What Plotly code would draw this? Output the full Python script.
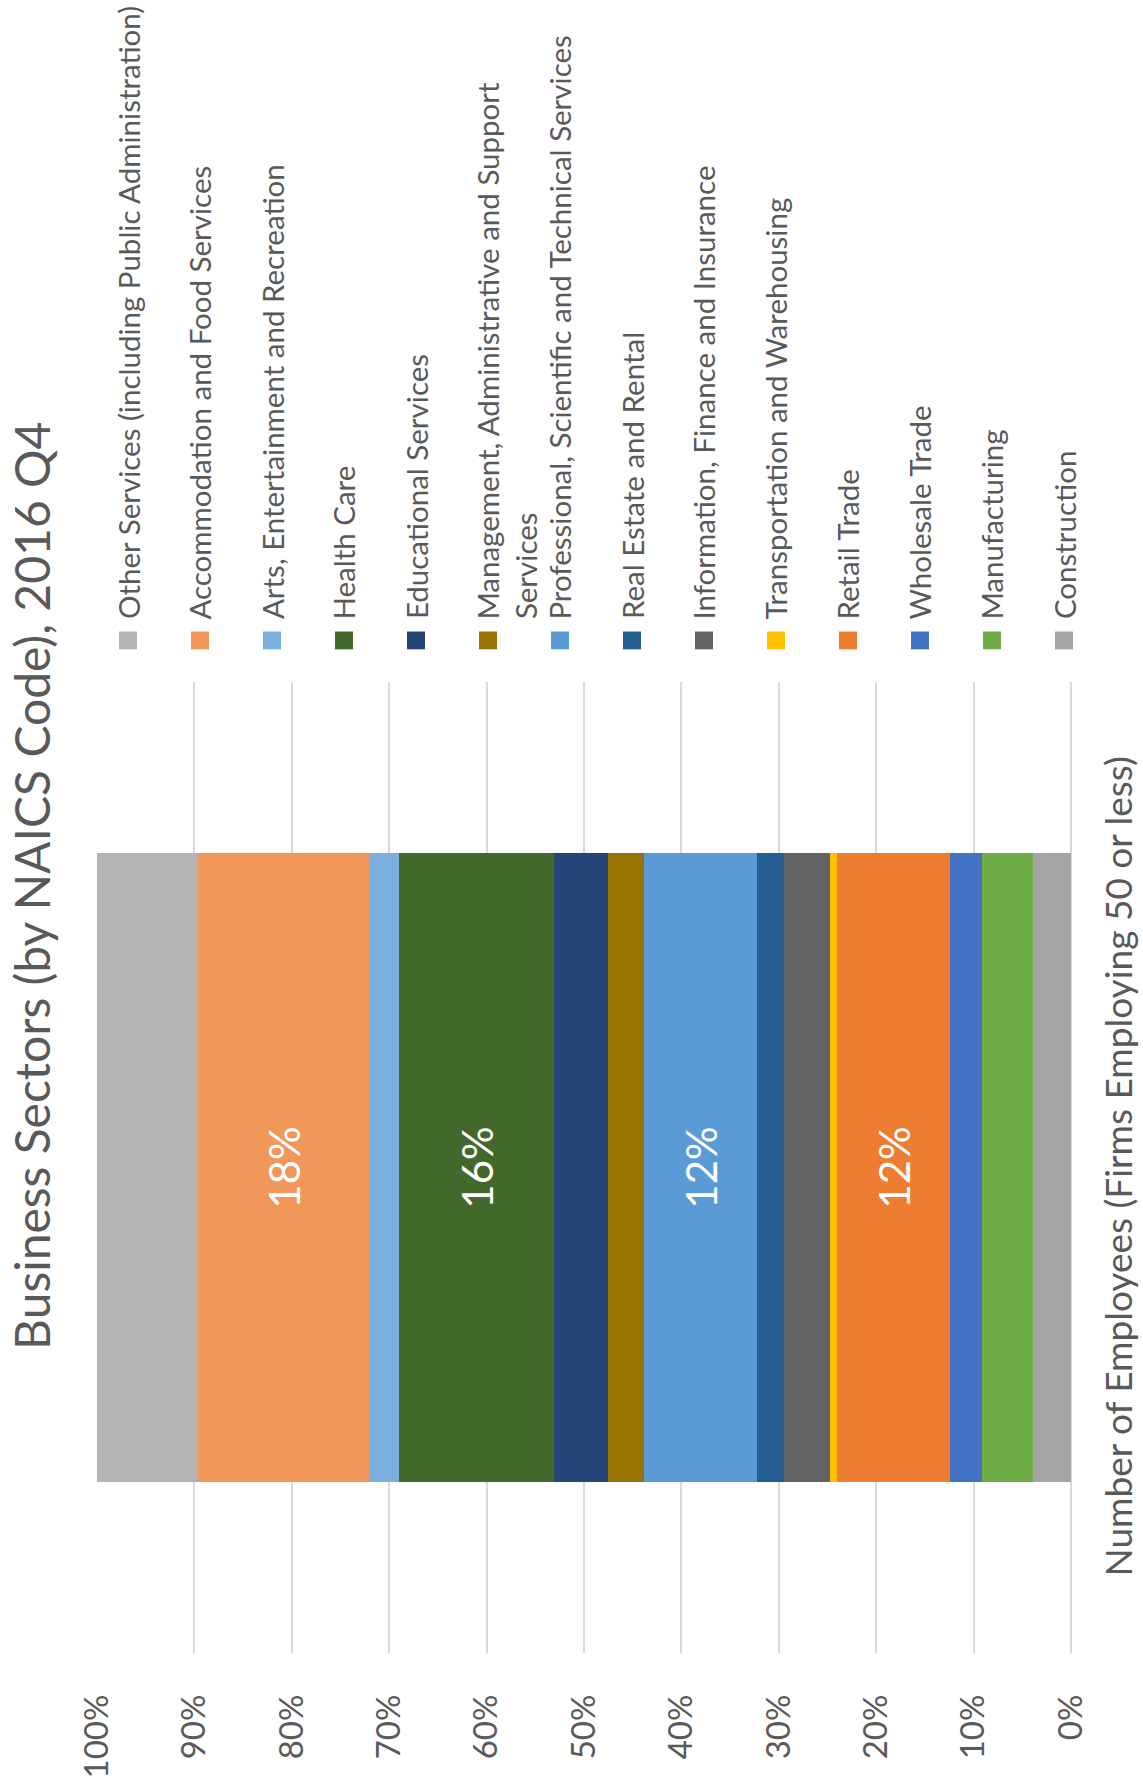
import plotly.graph_objects as go

# Figure and plot-area geometry (pixels)
W, H = 1143, 1790
PLOT_L, PLOT_R, PLOT_T, PLOT_B = 97, 1071, 682, 1663

FONT = "Lato"
GREY_TEXT = "#595959"

chart_title = "Business Sectors (by NAICS Code), 2016 Q4"
axis_title = "Number of Employees (Firms Employing 50 or less)"
group = ["Firms employing 50 or less"]

# Sectors in stacking order (first one sits at 0%)
sectors = [
    "Construction",
    "Manufacturing",
    "Wholesale Trade",
    "Retail Trade",
    "Transportation and Warehousing",
    "Information, Finance and Insurance",
    "Real Estate and Rental",
    "Professional, Scientific and Technical Services",
    "Management, Administrative and Support Services",
    "Educational Services",
    "Health Care",
    "Arts, Entertainment and Recreation",
    "Accommodation and Food Services",
    "Other Services (including Public Administration)",
]
# Share of firms, percent
shares = [3.9, 5.2, 3.3, 11.6, 0.7, 4.8, 2.7, 11.6, 3.7, 5.6, 15.9, 3.0, 17.7, 10.3]
colors = [
    "#A5A5A5", "#70AD47", "#4472C4", "#ED7D31", "#FFC000", "#636363", "#255E91",
    "#5B9BD5", "#997300", "#264478", "#43682B", "#7CAFDD", "#F1975A", "#B4B4B4",
]
# Legend text (long names wrap onto a second line)
legend_text = {
    "Management, Administrative and Support Services":
        ["Management, Administrative and Support", "Services"],
}
labelled = {
    "Retail Trade",
    "Professional, Scientific and Technical Services",
    "Health Care",
    "Accommodation and Food Services",
}
tick_values = [0, 10, 20, 30, 40, 50, 60, 70, 80, 90, 100]
tick_labels = [f"{v}%" for v in tick_values]


def px_x(px):
    return (px - PLOT_L) / (PLOT_R - PLOT_L)


def px_y(py):
    return (PLOT_B - py) / (PLOT_B - PLOT_T)


fig = go.Figure()
for name, val, col in zip(sectors, shares, colors):
    fig.add_trace(go.Bar(
        y=group, x=[val], name=name, orientation="h",
        marker=dict(color=col, line=dict(width=0)),
        width=0.6473,
        text=[f"{round(val)}%" if name in labelled else ""],
        textposition="inside", insidetextanchor="middle",
        textangle=-90, constraintext="none",
        textfont=dict(family=FONT, size=42, color="white"),
        hoverinfo="skip", showlegend=False,
    ))

annotations = []
shapes = []

# Chart title
annotations.append(dict(
    text=chart_title, xref="paper", yref="paper",
    x=px_x(32), y=px_y(888), xanchor="center", yanchor="middle",
    textangle=-90, showarrow=False,
    font=dict(family=FONT, size=48, color=GREY_TEXT),
))

# Category axis title, kept inside the right edge
annotations.append(dict(
    text=axis_title, xref="paper", yref="paper",
    x=px_x(1142), y=px_y(1172), xanchor="right", yanchor="middle",
    textangle=-90, showarrow=False,
    font=dict(family=FONT, size=37, color=GREY_TEXT),
))

# Legend: one column per sector, drawn in reverse stacking order
COL0, COL_STEP, SQ = 128, 72, 18
SQ_TOP, TEXT_BOTTOM, LINE_GAP = 631, 621, 37
for i, (name, col) in enumerate(zip(sectors[::-1], colors[::-1])):
    cx = COL0 + i * COL_STEP
    shapes.append(dict(
        type="rect", xref="paper", yref="paper",
        x0=px_x(cx - SQ / 2), x1=px_x(cx + SQ / 2),
        y0=px_y(SQ_TOP + SQ), y1=px_y(SQ_TOP),
        fillcolor=col, line=dict(width=0),
    ))
    for k, line in enumerate(legend_text.get(name, [name])):
        annotations.append(dict(
            text=line, xref="paper", yref="paper",
            x=px_x(cx + k * LINE_GAP), y=px_y(TEXT_BOTTOM),
            xanchor="center", yanchor="bottom",
            textangle=-90, showarrow=False,
            font=dict(family=FONT, size=29.5, color=GREY_TEXT),
        ))

fig.update_layout(
    width=W, height=H,
    margin=dict(l=PLOT_L, r=W - PLOT_R, t=PLOT_T, b=H - PLOT_B, pad=0),
    paper_bgcolor="white", plot_bgcolor="white",
    barmode="stack", bargap=0,
    font=dict(family=FONT, color=GREY_TEXT),
    annotations=annotations, shapes=shapes,
    xaxis=dict(
        range=[100, 0], tickvals=tick_values, ticktext=tick_labels,
        tickangle=-90, ticks="", ticklabelstandoff=34,
        tickfont=dict(family=FONT, size=33, color=GREY_TEXT),
        showgrid=True, gridcolor="#D9D9D9", gridwidth=1.5,
        zeroline=True, zerolinecolor="#D9D9D9", zerolinewidth=1.5,
        showline=False, fixedrange=True,
    ),
    yaxis=dict(
        range=[-0.5, 0.5], showticklabels=False, showgrid=False,
        zeroline=False, showline=False, fixedrange=True,
    ),
)

fig.write_html("out.html")
